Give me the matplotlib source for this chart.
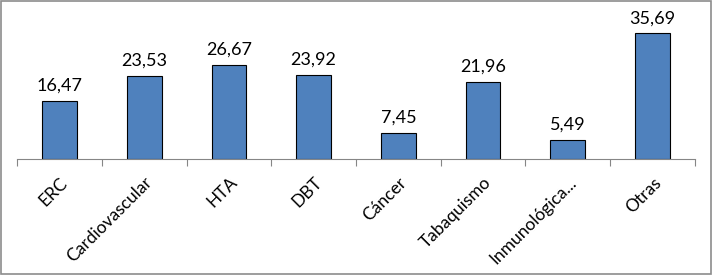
import numpy as np
import matplotlib.pyplot as plt
from matplotlib.patches import Rectangle

categorias = ['ERC', 'Cardiovascular', 'HTA', 'DBT', 'Cáncer', 'Tabaquismo',
              'Inmunológica...', 'Otras']
valores = [16.47, 23.53, 26.67, 23.92, 7.45, 21.96, 5.49, 35.69]
etiquetas = ['16,47', '23,53', '26,67', '23,92', '7,45', '21,96', '5,49', '35,69']

plt.rcParams['font.family'] = ['Lato', 'DejaVu Sans']

fig = plt.figure(figsize=(7.12, 2.75), dpi=100)
ax = fig.add_axes([0.0239, 0.4218, 0.9522, 0.5132])

x = np.arange(len(categorias))
ax.bar(x, valores, width=0.41, color='#4F81BD', edgecolor='black', linewidth=0.8)

for xi, v, t in zip(x, valores, etiquetas):
    ax.annotate(t, (xi, v), xytext=(0, 5), textcoords='offset points',
                ha='center', va='bottom', fontsize=13, color='black')

ax.set_xlim(-0.5, len(categorias) - 0.5)
ax.set_ylim(0, 40)
ax.set_yticks([])
for s in ['left', 'right', 'top']:
    ax.spines[s].set_visible(False)
ax.spines['bottom'].set_color('#868686')
ax.spines['bottom'].set_linewidth(0.8)

ax.set_xticks(np.arange(len(categorias) + 1) - 0.5)
ax.set_xticklabels([])
ax.tick_params(axis='x', length=5, color='#868686', width=0.8)
ax.set_xticks(x, minor=True)
ax.set_xticklabels(categorias, minor=True, rotation=45, ha='right',
                   rotation_mode='anchor', fontsize=12.5)
ax.tick_params(axis='x', which='minor', length=0, pad=11)

fig.patches.append(Rectangle((0.001, 0.002), 0.997, 0.995, transform=fig.transFigure,
                             fill=False, edgecolor='#8c8c8c', linewidth=1.2))

fig.savefig('out.png', dpi=100)
